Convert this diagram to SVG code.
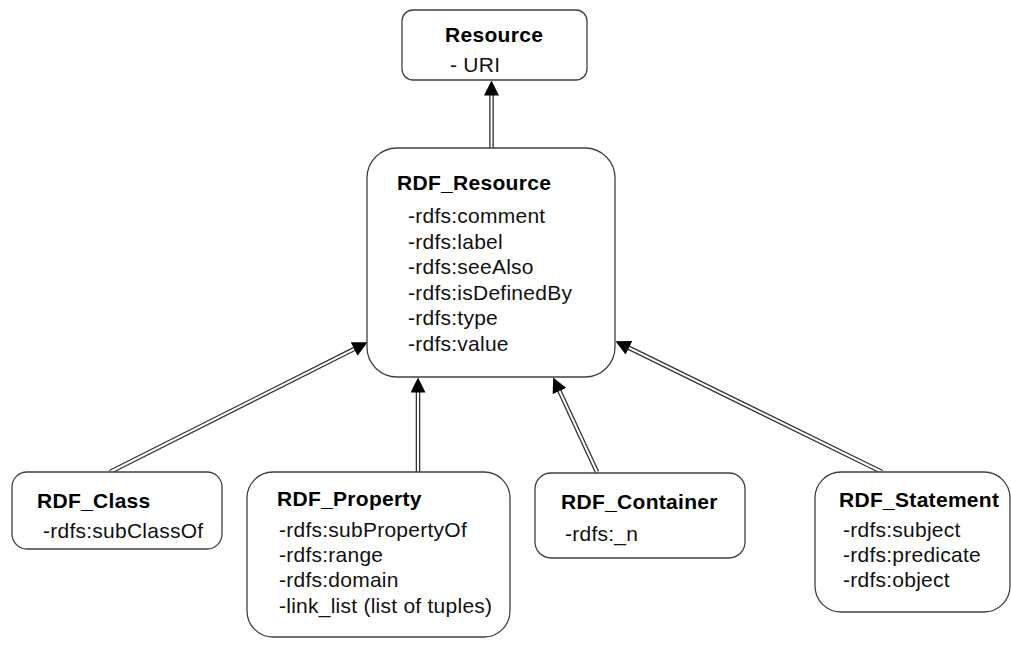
<svg xmlns="http://www.w3.org/2000/svg" width="1011" height="646" viewBox="0 0 1011 646">
  <style>
    .box { fill: #ffffff; stroke: #404040; stroke-width: 1.3; }
    .title { font-family: "Liberation Sans", Arial, sans-serif; font-size: 21px; font-weight: bold; letter-spacing: 0.3px; fill: #000; }
    .item { font-family: "Liberation Sans", Arial, sans-serif; font-size: 21px; letter-spacing: 0.25px; fill: #111; }
    .edge-out { fill: none; stroke: #333333; stroke-width: 4.6; }
    .edge-in { fill: none; stroke: #ffffff; stroke-width: 2; marker-end: url(#head); }
  </style>
  <defs>
    <marker id="head" viewBox="0 0 15 15" refX="0.5" refY="7.5" markerWidth="15" markerHeight="15" markerUnits="userSpaceOnUse" orient="auto">
      <path d="M0,0 L15,7.5 L0,15 Z" fill="#000"/>
    </marker>
  </defs>

  <!-- generalization connectors: double line ending in a filled arrowhead -->
  <g id="connectors">
    <path class="edge-out" d="M491.5,148 L491.5,95"/>
    <path class="edge-in" d="M491.5,148 L491.5,95"/>
    <path class="edge-out" d="M110,472 L354.6,348.8"/>
    <path class="edge-in" d="M110,472 L354.6,348.8"/>
    <path class="edge-out" d="M418,472 L418,392"/>
    <path class="edge-in" d="M418,472 L418,392"/>
    <path class="edge-out" d="M597,472 L559.3,390.6"/>
    <path class="edge-in" d="M597,472 L559.3,390.6"/>
    <path class="edge-out" d="M882,472 L628.5,347.6"/>
    <path class="edge-in" d="M882,472 L628.5,347.6"/>
  </g>

  <g id="resource">
    <rect class="box" x="402" y="10" width="185" height="70" rx="11"/>
    <text class="title" x="445" y="42">Resource</text>
    <text class="item" x="450" y="72">- URI</text>
  </g>

  <g id="rdf-resource">
    <rect class="box" x="367" y="148" width="248" height="229" rx="30"/>
    <text class="title" x="397" y="190">RDF_Resource</text>
    <text class="item" x="408" y="223">-rdfs:comment</text>
    <text class="item" x="408" y="249">-rdfs:label</text>
    <text class="item" x="408" y="274">-rdfs:seeAlso</text>
    <text class="item" x="408" y="300">-rdfs:isDefinedBy</text>
    <text class="item" x="408" y="325">-rdfs:type</text>
    <text class="item" x="408" y="351">-rdfs:value</text>
  </g>

  <g id="rdf-class">
    <rect class="box" x="12" y="472" width="210" height="77" rx="15"/>
    <text class="title" x="37" y="508">RDF_Class</text>
    <text class="item" x="43" y="538">-rdfs:subClassOf</text>
  </g>

  <g id="rdf-property">
    <rect class="box" x="247" y="472" width="263" height="165" rx="26"/>
    <text class="title" x="277" y="506">RDF_Property</text>
    <text class="item" x="279" y="537">-rdfs:subPropertyOf</text>
    <text class="item" x="279" y="562">-rdfs:range</text>
    <text class="item" x="279" y="587">-rdfs:domain</text>
    <text class="item" x="279" y="613">-link_list (list of tuples)</text>
  </g>

  <g id="rdf-container">
    <rect class="box" x="535" y="473" width="210" height="85" rx="16"/>
    <text class="title" x="561" y="509">RDF_Container</text>
    <text class="item" x="565" y="541">-rdfs:_n</text>
  </g>

  <g id="rdf-statement">
    <rect class="box" x="815" y="472" width="195" height="140" rx="26"/>
    <text class="title" x="839" y="507">RDF_Statement</text>
    <text class="item" x="843" y="537">-rdfs:subject</text>
    <text class="item" x="843" y="562">-rdfs:predicate</text>
    <text class="item" x="843" y="587">-rdfs:object</text>
  </g>
</svg>
